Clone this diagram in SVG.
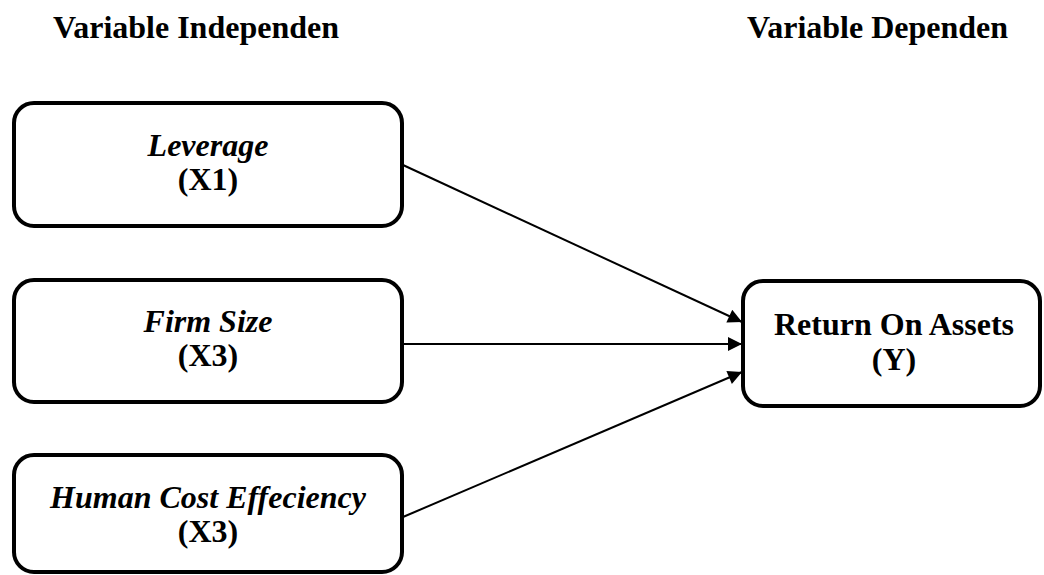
<svg xmlns="http://www.w3.org/2000/svg" width="1044" height="575" viewBox="0 0 1044 575">
  <style>
    .box { fill: #ffffff; stroke: #000000; stroke-width: 4; }
    .t { font-family: "Liberation Serif", "Times New Roman", serif; font-size: 32px; font-weight: bold; fill: #000000; }
    .c { text-anchor: middle; }
    .i { font-style: italic; }
    .edge { stroke: #000000; stroke-width: 2; fill: none; marker-end: url(#arrow); }
  </style>
  <defs>
    <marker id="arrow" viewBox="0 0 10 10" refX="10" refY="5" markerWidth="8" markerHeight="7" markerUnits="strokeWidth" orient="auto">
      <path d="M0,0 L10,5 L0,10 z" fill="#000000"/>
    </marker>
  </defs>
  <rect width="1044" height="575" fill="#ffffff"/>
  <g id="titles">
    <text class="t" x="53" y="38">Variable Independen</text>
    <text class="t" x="747" y="38">Variable Dependen</text>
  </g>
  <g id="connectors">
    <line class="edge" x1="403" y1="165" x2="742" y2="322"/>
    <line class="edge" x1="403" y1="344" x2="742" y2="344"/>
    <line class="edge" x1="403" y1="517" x2="742" y2="372"/>
  </g>
  <g id="node-x1">
    <rect class="box" x="14" y="103" width="388" height="123" rx="20" ry="20"/>
    <text class="t c i" x="208" y="156">Leverage</text>
    <text class="t c" x="208" y="190">(X1)</text>
  </g>
  <g id="node-x2">
    <rect class="box" x="14" y="280" width="388" height="122" rx="20" ry="20"/>
    <text class="t c i" x="208" y="332">Firm Size</text>
    <text class="t c" x="208" y="366">(X3)</text>
  </g>
  <g id="node-x3">
    <rect class="box" x="14" y="455" width="388" height="117" rx="20" ry="20"/>
    <text class="t c i" x="208" y="508">Human Cost Effeciency</text>
    <text class="t c" x="208" y="542">(X3)</text>
  </g>
  <g id="node-y">
    <rect class="box" x="743" y="281" width="297" height="125" rx="20" ry="20"/>
    <text class="t c" x="894" y="335">Return On Assets</text>
    <text class="t c" x="894" y="370">(Y)</text>
  </g>
</svg>
